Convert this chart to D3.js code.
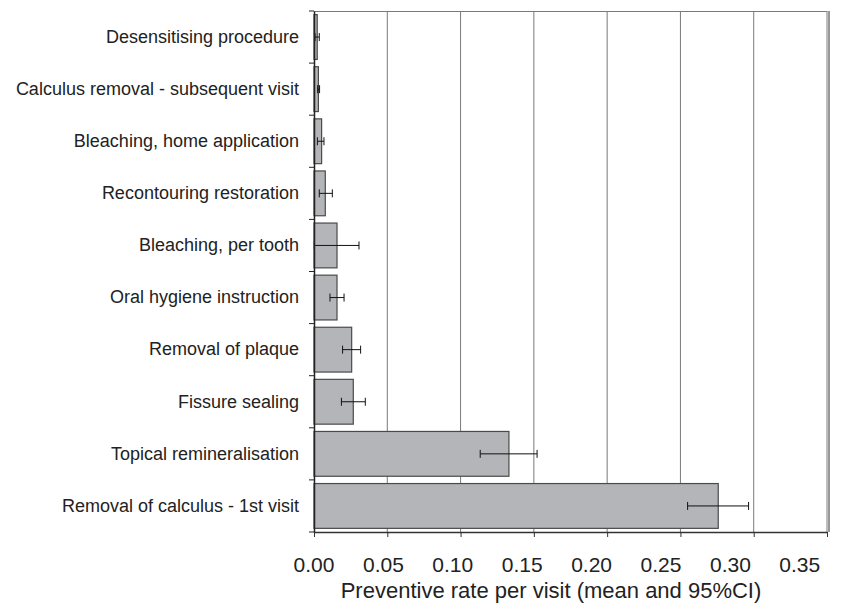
<!DOCTYPE html>
<html>
<head>
<meta charset="utf-8">
<script src="https://cdn.jsdelivr.net/npm/d3@7"></script>
<style>
  body { margin: 0; background: #fff; }
  svg { display: block; }
</style>
</head>
<body>
<div id="chart"></div>
<script>
// procedures, top to bottom as drawn
var procedures = [
  'Desensitising procedure',
  'Calculus removal - subsequent visit',
  'Bleaching, home application',
  'Recontouring restoration',
  'Bleaching, per tooth',
  'Oral hygiene instruction',
  'Removal of plaque',
  'Fissure sealing',
  'Topical remineralisation',
  'Removal of calculus - 1st visit'
];
// mean rate per visit
var means = [0.0022, 0.0030, 0.0052, 0.0077, 0.0157, 0.0157, 0.0257, 0.0268, 0.1330, 0.2758];
// 95% CI
var ciLow  = [0.0007, 0.0025, 0.0023, 0.0036, 0.0002, 0.0109, 0.0195, 0.0187, 0.1134, 0.2549];
var ciHigh = [0.0036, 0.0038, 0.0068, 0.0125, 0.0307, 0.0205, 0.0318, 0.0350, 0.1522, 0.2965];
var xTicks = [0, 0.05, 0.10, 0.15, 0.20, 0.25, 0.30, 0.35];

var width = 849, height = 609;
var margin = {top: 11, right: 22, bottom: 77, left: 314};
var w = width - margin.left - margin.right,
    h = height - margin.top - margin.bottom;

var svg = d3.select('#chart').append('svg')
    .attr('width', width)
    .attr('height', height);
var g = svg.append('g')
    .attr('transform', 'translate(' + margin.left + ',' + margin.top + ')');

var x = d3.scaleLinear().domain([0, 0.35]).range([0, w]);
// tick labels in the original sit on a slightly tighter spacing than the gridlines
var xLabel = d3.scaleLinear().domain([0, 0.35]).range([0, w * 0.947]);
var y = d3.scaleBand().domain(procedures).range([0, h]).paddingInner(0.14).paddingOuter(0.07);

// vertical gridlines
g.selectAll('.grid').data(xTicks.slice(1)).enter().append('line')
    .attr('x1', d => x(d)).attr('x2', d => x(d))
    .attr('y1', 0).attr('y2', h)
    .attr('stroke', '#7a7a7a').attr('stroke-width', 1);

// top border
g.append('line').attr('x1', 0).attr('x2', w).attr('y1', 0.5).attr('y2', 0.5)
    .attr('stroke', '#7a7a7a');
// right double border
g.append('line').attr('x1', w + 2).attr('x2', w + 2).attr('y1', 0).attr('y2', h)
    .attr('stroke', '#333');

// bars
g.selectAll('.bar').data(procedures).enter().append('rect')
    .attr('x', 0)
    .attr('y', d => y(d))
    .attr('width', (d, i) => x(means[i]))
    .attr('height', y.bandwidth())
    .attr('fill', '#b4b5b9')
    .attr('stroke', '#4a4a4a')
    .attr('stroke-width', 1.2);

// error bars
var eb = g.selectAll('.err').data(procedures).enter().append('g')
    .attr('transform', d => 'translate(0,' + (y(d) + y.bandwidth() / 2) + ')');
eb.append('line')
    .attr('x1', (d, i) => x(ciLow[i])).attr('x2', (d, i) => x(ciHigh[i]))
    .attr('stroke', '#111').attr('stroke-width', 1);
eb.append('line')
    .attr('x1', (d, i) => x(ciLow[i])).attr('x2', (d, i) => x(ciLow[i]))
    .attr('y1', -4).attr('y2', 4)
    .attr('stroke', '#111');
eb.append('line')
    .attr('x1', (d, i) => x(ciHigh[i])).attr('x2', (d, i) => x(ciHigh[i]))
    .attr('y1', -4).attr('y2', 4)
    .attr('stroke', '#111');

// y axis: ticks between categories
var yAxis = g.append('g').call(d3.axisLeft(y).tickSize(0).tickPadding(15));
yAxis.select('.domain').attr('stroke', '#222').attr('stroke-width', 1.5);
yAxis.selectAll('text')
    .attr('font-family', '"Liberation Sans", Arial, sans-serif')
    .attr('font-size', 18)
    .attr('fill', '#222');
var step = h / procedures.length;
g.selectAll('.ytick').data(d3.range(procedures.length + 1)).enter().append('line')
    .attr('x1', -5).attr('x2', 0)
    .attr('y1', d => d * step).attr('y2', d => d * step)
    .attr('stroke', '#222');

// x axis
var xAxis = g.append('g')
    .attr('transform', 'translate(0,' + h + ')')
    .call(d3.axisBottom(x).tickValues(xTicks).tickFormat(() => '').tickSize(5).tickSizeOuter(0));
xAxis.select('.domain').attr('stroke', '#333').attr('stroke-width', 1.5);
xAxis.selectAll('line').attr('stroke', '#333');

g.selectAll('.xlab').data(xTicks).enter().append('text')
    .attr('x', d => xLabel(d))
    .attr('y', h + 40)
    .attr('text-anchor', 'middle')
    .attr('font-family', '"Liberation Sans", Arial, sans-serif')
    .attr('font-size', 21)
    .attr('fill', '#222')
    .text(d3.format('.2f'));

svg.append('text')
    .attr('x', 551)
    .attr('y', 598)
    .attr('text-anchor', 'middle')
    .attr('font-family', '"Liberation Sans", Arial, sans-serif')
    .attr('font-size', 22)
    .attr('fill', '#222')
    .text('Preventive rate per visit (mean and 95%CI)');
</script>
</body>
</html>
